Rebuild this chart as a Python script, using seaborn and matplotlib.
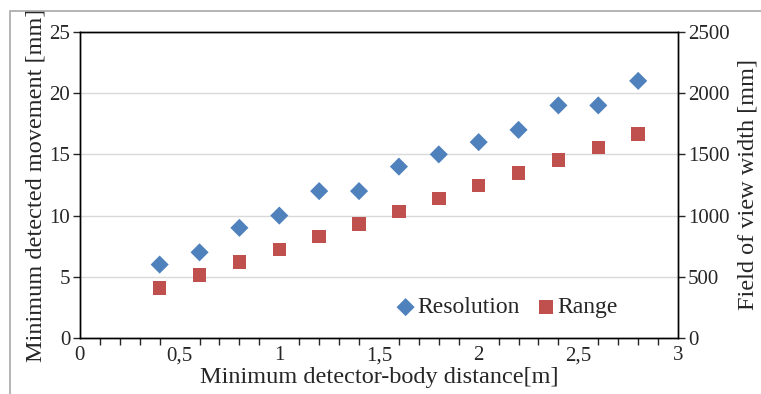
import seaborn as sns
import matplotlib.pyplot as plt
import pandas as pd
from matplotlib.patches import Rectangle
from matplotlib.ticker import MultipleLocator, FuncFormatter

# data
distance = [0.4, 0.6, 0.8, 1.0, 1.2, 1.4, 1.6, 1.8, 2.0, 2.2, 2.4, 2.6, 2.8]
resolution = [6, 7, 9, 10, 12, 12, 14, 15, 16, 17, 19, 19, 21]
fov_range = [410, 515, 620, 725, 830, 930, 1035, 1140, 1245, 1350, 1455, 1555, 1665]

df = pd.DataFrame({"distance": distance, "resolution": resolution, "range": fov_range})

sns.set_style("white")
plt.rcParams["font.family"] = ["Liberation Serif", "DejaVu Serif"]

fig = plt.figure(figsize=(7.61, 3.94), dpi=100)
ax = fig.add_axes([0.105, 0.142, 0.786, 0.777])
ax2 = ax.twinx()

blue = "#4F81BD"
red = "#C0504D"

sns.scatterplot(data=df, x="distance", y="resolution", ax=ax, marker="D", s=85,
                color=blue, edgecolor="none", label="Resolution", legend=False)
sns.scatterplot(data=df, x="distance", y="range", ax=ax2, marker="s", s=95,
                color=red, edgecolor="none", label="Range", legend=False)

ax.set_xlim(0, 3)
ax.set_ylim(0, 25)
ax2.set_ylim(0, 2500)
ax.xaxis.set_major_locator(MultipleLocator(0.5))
ax.xaxis.set_minor_locator(MultipleLocator(0.1))
ax.yaxis.set_major_locator(MultipleLocator(5))
ax2.yaxis.set_major_locator(MultipleLocator(500))
ax.xaxis.set_major_formatter(FuncFormatter(lambda v, p: f"{v:g}".replace(".", ",")))

ax.yaxis.grid(True, color="#D9D9D9", lw=1)
ax.set_axisbelow(True)
for a in (ax, ax2):
    for sp in a.spines.values():
        sp.set_color("black")
        sp.set_linewidth(1)

ax.tick_params(axis="x", which="major", direction="out", length=6, width=1, labelsize=15, pad=0)
ax.tick_params(axis="x", which="minor", direction="out", length=5, width=1, bottom=True)
ax.tick_params(axis="y", direction="out", length=5, width=1, labelsize=15, left=True, pad=2)
ax2.tick_params(axis="y", direction="out", length=5, width=1, labelsize=15, right=True, pad=2)

ax.set_xlabel("Minimum detector-body distance[m]", fontsize=17.5, labelpad=1)
ax.set_ylabel("Minimum detected movement [mm]", fontsize=17.5, labelpad=2)
ax2.set_ylabel("Field of view width [mm]", fontsize=17.5, labelpad=6)

h1, l1 = ax.get_legend_handles_labels()
h2, l2 = ax2.get_legend_handles_labels()
ax2.legend(h1 + h2, l1 + l2, loc="lower right", ncol=2, frameon=False, fontsize=17,
           handletextpad=-0.1, handlelength=1.2, columnspacing=0.5,
           bbox_to_anchor=(0.935, -0.005), markerscale=1.0)

fig.patches.append(Rectangle((0.013, -0.2), 1.2, 0.972 + 0.2, transform=fig.transFigure,
                             fill=False, edgecolor="#A8A8A8", lw=1.2))

fig.savefig("out.png", dpi=100)
